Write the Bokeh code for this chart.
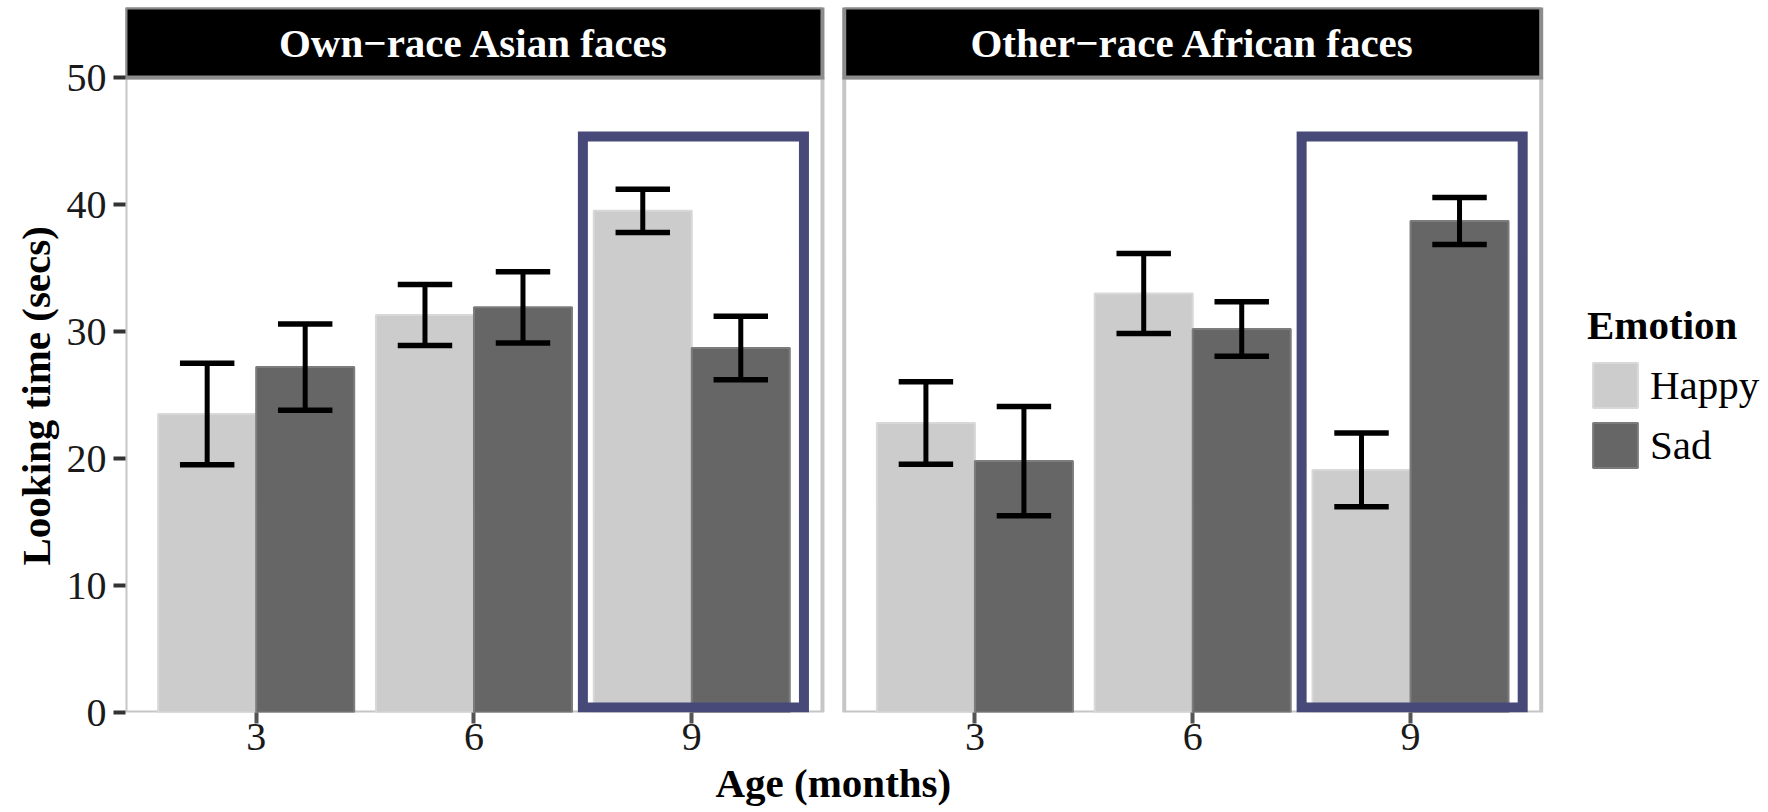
from bokeh.plotting import figure
from bokeh.models import ColumnDataSource, Range1d, FixedTicker, Label, Legend, LegendItem, Title
from bokeh.embed import file_html
from bokeh.resources import INLINE

# ---------------- data ----------------
ages = ["3", "6", "9"]
panels = ["Own\u2212race Asian faces", "Other\u2212race African faces"]
emotions = ["Happy", "Sad"]
happy_own = [23.5, 31.3, 39.5]
happy_own_se = [4.0, 2.4, 1.7]
sad_own = [27.2, 31.9, 28.7]
sad_own_se = [3.4, 2.8, 2.5]
happy_other = [22.8, 33.0, 19.1]
happy_other_se = [3.25, 3.15, 2.9]
sad_other = [19.8, 30.2, 38.7]
sad_other_se = [4.3, 2.15, 1.85]
y_ticks = [0, 10, 20, 30, 40, 50]
highlight_age = "9"
highlight_top = 45.35

# ---------------- layout ----------------
W, H = 1768, 812
LEFT, RIGHT, TOP, BOTTOM = 125, 0, 7, 100
PX_X = 217.8          # px per category unit
PX_Y = 12.7           # px per second
frame_w = W - LEFT - RIGHT
frame_h = H - TOP - BOTTOM
panel_offset = [0.0, 3.3]
dodge, bar_w, cap = 0.225, 0.45, 0.125
fill = {"Happy": "#CCCCCC", "Sad": "#666666"}
edge = {"Happy": "#D8D8D8", "Sad": "#7C7C7C"}
SERIF = "Liberation Serif"

series = {
    ("Happy", 0): (happy_own, happy_own_se),
    ("Sad", 0): (sad_own, sad_own_se),
    ("Happy", 1): (happy_other, happy_other_se),
    ("Sad", 1): (sad_other, sad_other_se),
}

p = figure(width=W, height=H, output_backend="svg", toolbar_location=None, title=None,
           x_range=Range1d(0.4, 0.4 + frame_w / PX_X), y_range=Range1d(0, frame_h / PX_Y),
           min_border_left=LEFT, min_border_right=RIGHT, min_border_top=TOP, min_border_bottom=BOTTOM)
p.outline_line_color = None
p.xgrid.visible = False
p.ygrid.visible = False
p.background_fill_color = "white"
p.border_fill_color = "white"

# panels and strips
pl = [o + 0.4 for o in panel_offset]
pr = [o + 3.6 for o in panel_offset]
p.quad(left=pl, right=pr, bottom=0, top=50, fill_color="white", line_color="#C6C6C6", line_width=4)
p.quad(left=pl, right=pr, bottom=50, top=frame_h / PX_Y, fill_color="black", line_color="#8C8C8C",
       line_width=4, line_join="miter")

renderers = {}
for emo, sign in (("Happy", -1), ("Sad", 1)):
    xs, tops, lo, hi = [], [], [], []
    for pi_, off in enumerate(panel_offset):
        vals, ses = series[(emo, pi_)]
        for j, a in enumerate(ages):
            xs.append(off + j + 1 + sign * dodge)
            tops.append(vals[j])
            lo.append(vals[j] - ses[j])
            hi.append(vals[j] + ses[j])
    src = ColumnDataSource(dict(x=xs, top=tops, lo=lo, hi=hi,
                                x0=[x - cap for x in xs], x1=[x + cap for x in xs]))
    renderers[emo] = p.vbar(x="x", top="top", bottom=0, width=bar_w, source=src,
                            fill_color=fill[emo], line_color=edge[emo], line_width=2)
    p.segment(x0="x", x1="x", y0="lo", y1="hi", source=src, line_color="black", line_width=5)
    p.segment(x0="x0", x1="x1", y0="lo", y1="lo", source=src, line_color="black", line_width=5.5)
    p.segment(x0="x0", x1="x1", y0="hi", y1="hi", source=src, line_color="black", line_width=5.5)

# highlight boxes around the 9-month groups
hi_idx = ages.index(highlight_age) + 1
p.quad(left=[o + hi_idx - 0.5 for o in panel_offset], right=[o + hi_idx + 0.515 for o in panel_offset],
       bottom=0.4, top=highlight_top, fill_color=None, line_color="#474A78", line_width=10,
       line_join="miter")

# axes
tick_x = [off + j + 1 for off in panel_offset for j in range(len(ages))]
p.xaxis.ticker = FixedTicker(ticks=tick_x)
p.xaxis.major_label_overrides = {t: ages[k % len(ages)] for k, t in enumerate(tick_x)}
p.yaxis.ticker = FixedTicker(ticks=y_ticks)
for ax in (p.xaxis, p.yaxis):
    ax.axis_line_color = None
    ax.minor_tick_line_color = None
    ax.major_tick_in = 0
    ax.major_tick_line_width = 4
    ax.major_label_text_font = SERIF
    ax.major_label_text_font_size = "40px"
    ax.major_label_text_color = "#1A1A1A"
p.xaxis.major_tick_out = 11
p.xaxis.major_tick_line_color = "#555555"
p.xaxis.major_label_standoff = 0
p.yaxis.major_tick_out = 12
p.yaxis.major_tick_line_color = "#333333"
p.yaxis.major_label_standoff = 7

# axis titles (offset = distance of the text start from the frame's left / bottom edge)
p.add_layout(Title(text="Age (months)", align="left", offset=590, standoff=11,
                   text_font=SERIF, text_font_style="bold", text_font_size="41px",
                   text_color="black"), "below")
p.add_layout(Title(text="Looking time (secs)", align="left", offset=147, standoff=10,
                   text_font=SERIF, text_font_style="bold", text_font_size="41px",
                   text_color="black"), "left")

# strip texts
for off, name in zip(panel_offset, panels):
    p.add_layout(Label(x=off + 2.0, y=(712 - 42) / PX_Y, text=name, text_align="center",
                       text_baseline="alphabetic", text_color="white", text_font=SERIF,
                       text_font_style="bold", text_font_size="41px"))

# legend
legend = Legend(items=[LegendItem(label=e, renderers=[renderers[e]]) for e in emotions],
                location=(1462, 239), title="Emotion", title_text_font=SERIF,
                title_text_font_style="bold", title_text_font_size="41px", title_standoff=8,
                title_text_color="black", label_text_color="black",
                label_text_font=SERIF, label_text_font_size="41px", label_standoff=7,
                glyph_width=56, glyph_height=56, label_height=56, spacing=4, padding=0, margin=0,
                border_line_color=None, background_fill_alpha=0)
p.add_layout(legend)

open("out.html", "w").write(file_html(p, INLINE))
